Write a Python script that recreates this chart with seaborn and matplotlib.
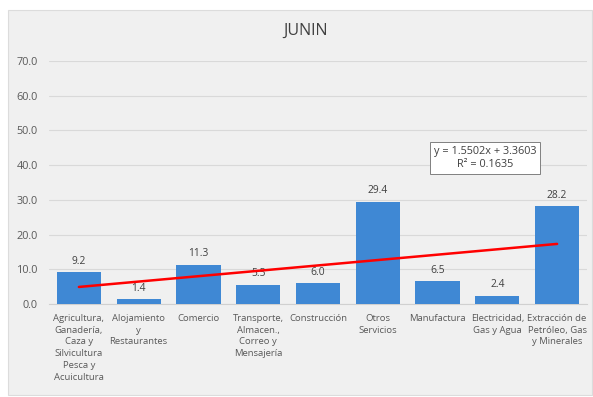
import matplotlib
matplotlib.use("Agg")
import matplotlib.pyplot as plt
from matplotlib.patches import Rectangle
import numpy as np
import pandas as pd
import seaborn as sns

# Sector data for the Junín region
categories = [
    "Agricultura,\nGanadería,\nCaza y\nSilvicultura\nPesca y\nAcuicultura",
    "Alojamiento\ny\nRestaurantes",
    "Comercio",
    "Transporte,\nAlmacen.,\nCorreo y\nMensajería",
    "Construcción",
    "Otros\nServicios",
    "Manufactura",
    "Electricidad,\nGas y Agua",
    "Extracción de\nPetróleo, Gas\ny Minerales",
]
values = [9.2, 1.4, 11.3, 5.5, 6.0, 29.4, 6.5, 2.4, 28.2]
y_ticks = [0, 10, 20, 30, 40, 50, 60, 70]

# Linear trend reported for the series
trend_slope = 1.5502
trend_intercept = 3.3603
trend_r2 = 0.1635

title = "JUNIN"

sns.set_theme(style="white")
plt.rcParams["font.family"] = ["Open Sans", "DejaVu Sans"]

df = pd.DataFrame({"sector": categories, "valor": values})

fig = plt.figure(figsize=(5.93, 3.97), dpi=100)
fig.patch.set_facecolor("white")
fig.patches.append(Rectangle((8 / 593, 2 / 397), 584 / 593, 385 / 397,
                             transform=fig.transFigure, facecolor="#f0f0f0",
                             edgecolor="#dcdcdc", linewidth=0.8, zorder=-10))

ax = fig.add_axes([49 / 593, 1 - 304 / 397, 538 / 593, 243 / 397])
ax.patch.set_alpha(0)

sns.barplot(data=df, x="sector", y="valor", color="#3f88d4", width=0.74,
            saturation=1, linewidth=0, ax=ax, zorder=3)

ax.set_ylim(0, 70)
ax.set_xlim(-0.5, len(categories) - 0.5)
ax.set_yticks(y_ticks)
ax.set_yticklabels([f"{t:.1f}" for t in y_ticks], fontsize=7.8, color="#595959")
ax.tick_params(axis="y", length=0, pad=8)
ax.tick_params(axis="x", length=0, pad=7)
ax.set_xticks(range(len(categories)))
ax.set_xticklabels(categories, fontsize=6.8, color="#595959", linespacing=1.4,
                   va="top")
ax.set_xlabel("")
ax.set_ylabel("")
ax.yaxis.grid(True, color="#d9d9d9", linewidth=0.8, zorder=0)
ax.set_axisbelow(True)
for s in ["top", "right", "left"]:
    ax.spines[s].set_visible(False)
ax.spines["bottom"].set_color("#d0d0d0")
ax.spines["bottom"].set_linewidth(0.8)

# Value labels above each bar
for i, v in enumerate(values):
    ax.text(i, v + 1.6, f"{v:.1f}", ha="center", va="bottom", fontsize=7.4,
            color="#404040", zorder=5)

# Trend line (x counted from 1 as in the fitted equation)
xs = np.array([1, len(categories)])
ys = trend_slope * xs + trend_intercept
ax.plot(xs - 1, ys, color="#ff0000", linewidth=1.8, zorder=6)

ax.text(6.79, 42.1, f"y = {trend_slope:.4f}x + {trend_intercept:.4f}\nR\u00b2 = {trend_r2:.4f}",
        ha="center", va="center", fontsize=7.8, color="#404040", linespacing=1.25,
        bbox=dict(boxstyle="square,pad=0.35", facecolor="white", edgecolor="#808080",
                  linewidth=0.7), zorder=7)

fig.text(305 / 593, 1 - 31 / 397, title, ha="center", va="center", fontsize=11.5,
         color="#404040")

fig.savefig("out.png", dpi=100)
